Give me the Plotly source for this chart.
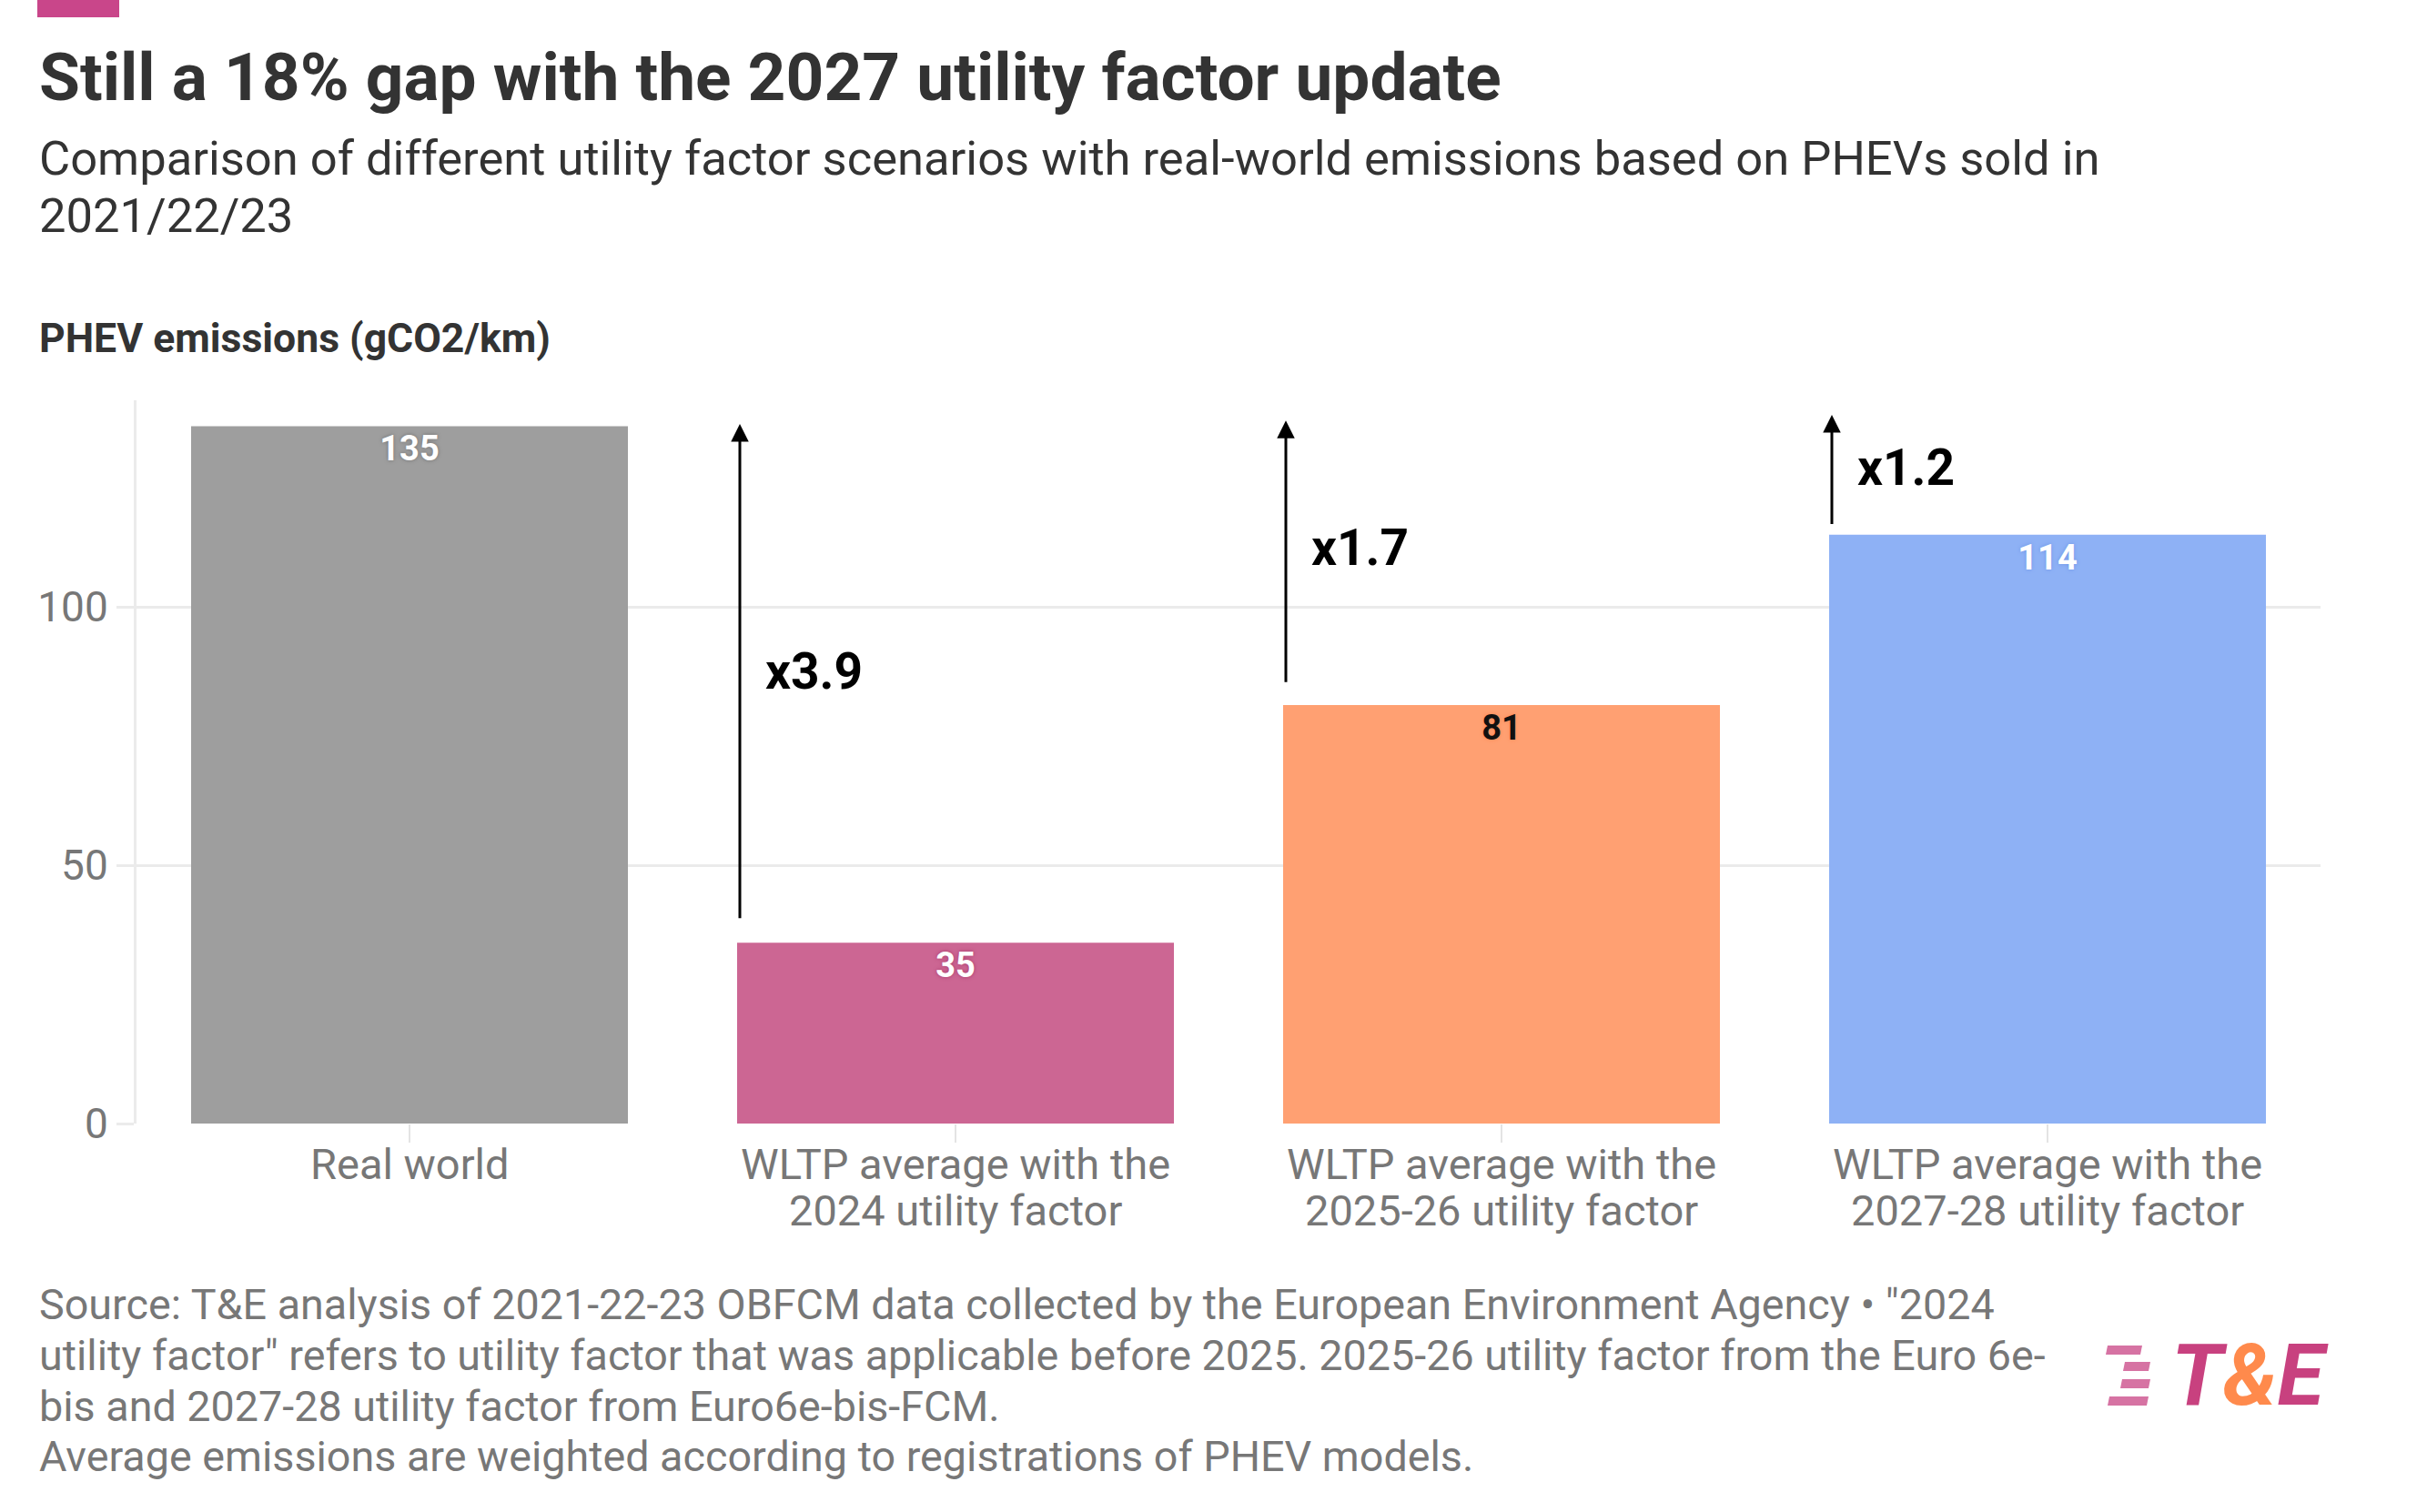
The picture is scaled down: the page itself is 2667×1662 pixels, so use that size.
import plotly.graph_objects as go

# ---------------- data ----------------
categories = [
    "Real world",
    "WLTP average with the<br>2024 utility factor",
    "WLTP average with the<br>2025-26 utility factor",
    "WLTP average with the<br>2027-28 utility factor",
]
values = [135, 35, 81, 114]
bar_colors = ["#9e9e9e", "#cc6693", "#ffa072", "#8eb1f5"]
label_colors = ["#ffffff", "#ffffff", "#111111", "#ffffff"]
halo_colors = ["#6f6f6f", "#a8386a", "#ff8450", "#6e94e6"]

# multiplier arrows (from bar index 1..3)
arrow_idx = [1, 2, 3]
arrow_start = [39.5, 85.2, 115.8]
arrow_end = [135.4, 136.1, 137.2]
arrow_text = ["x3.9", "x1.7", "x1.2"]
arrow_text_y = [87.5, 111.4, 127.0]

y_ticks = [0, 50, 100]

title = "Still a 18% gap with the 2027 utility factor update"
subtitle_lines = [
    "Comparison of different utility factor scenarios with real-world emissions based on PHEVs sold in",
    "2021/22/23",
]
y_title = "PHEV emissions (gCO2/km)"
notes = [
    "Source: T&E analysis of 2021-22-23 OBFCM data collected by the European Environment Agency • \"2024",
    "utility factor\" refers to utility factor that was applicable before 2025. 2025-26 utility factor from the Euro 6e-",
    "bis and 2027-28 utility factor from Euro6e-bis-FCM.",
    "Average emissions are weighted according to registrations of PHEV models.",
]

# ---------------- layout geometry ----------------
W, H = 2667, 1662
L, R, T, B = 150, 117, 440, 427
PW, PH = W - L - R, H - T - B
FONT = "Roboto"


def px(x):
    return (x - L) / PW


def py(y):
    return (H - B - y) / PH


fig = go.Figure()
for i, (c, v) in enumerate(zip(categories, values)):
    fig.add_trace(go.Bar(
        x=[c], y=[v],
        marker=dict(color=bar_colors[i], line=dict(width=0)),
        text=[str(v)],
        textposition="inside",
        insidetextanchor="end",
        textangle=0,
        textfont=dict(family=FONT, size=38, color=label_colors[i], weight="bold",
                      shadow=f"0px 0px 4px {halo_colors[i]}"),
        width=0.8,
        showlegend=False,
        hoverinfo="skip",
    ))

annotations = []
for k, idx in enumerate(arrow_idx):
    xa = idx - 0.395
    annotations.append(dict(
        x=xa, y=arrow_end[k], ax=xa, ay=arrow_start[k],
        xref="x", yref="y", axref="x", ayref="y",
        text="", showarrow=True, arrowhead=2, arrowsize=1.3, arrowwidth=3,
        arrowcolor="#000000", standoff=0, startstandoff=0,
    ))
    annotations.append(dict(
        x=idx - 0.352, y=arrow_text_y[k], xref="x", yref="y",
        text=f"<b>{arrow_text[k]}</b>", showarrow=False,
        xanchor="left", yanchor="middle",
        font=dict(family=FONT, size=55, color="#000000"),
    ))

# category labels (one annotation per line for tighter line spacing)
label_line_y = [1279, 1330]
for i, c in enumerate(categories):
    for j, line in enumerate(c.split("<br>")):
        annotations.append(dict(x=i, y=py(label_line_y[j]), xref="x", yref="paper",
                                xanchor="center", yanchor="middle", text=line, showarrow=False,
                                font=dict(family=FONT, size=47, color="#777777")))

# titles
annotations.append(dict(x=px(41), y=py(85), xref="paper", yref="paper", xanchor="left", yanchor="middle",
                        text=f"<b>{title}</b>", showarrow=False, align="left",
                        font=dict(family=FONT, size=73, color="#333333")))
for line, yy in zip(subtitle_lines, [174, 237]):
    annotations.append(dict(x=px(41), y=py(yy), xref="paper", yref="paper", xanchor="left", yanchor="middle",
                            text=line, showarrow=False, align="left",
                            font=dict(family=FONT, size=52.5, color="#333333")))
annotations.append(dict(x=px(41), y=py(372), xref="paper", yref="paper", xanchor="left", yanchor="middle",
                        text=f"<b>{y_title}</b>", showarrow=False, align="left",
                        font=dict(family=FONT, size=44.5, color="#333333")))
note_y = [1434, 1490, 1546, 1601]
for t, yy in zip(notes, note_y):
    annotations.append(dict(x=px(41), y=py(yy), xref="paper", yref="paper", xanchor="left", yanchor="middle",
                            text=t, showarrow=False, align="left",
                            font=dict(family=FONT, size=46.7, color="#777777")))

# logo text
annotations.append(dict(x=px(2384), y=py(1512), xref="paper", yref="paper", xanchor="left", yanchor="middle",
                        text="<b><i><span style='color:#c8417f'>T</span><span style='color:#ff8a4c'>&amp;</span>"
                             "<span style='color:#c8417f'>E</span></i></b>",
                        showarrow=False, font=dict(family=FONT, size=94, color="#c8417f")))

shapes = [dict(type="rect", xref="paper", yref="paper", x0=px(41), x1=px(131), y0=py(19), y1=py(0),
               fillcolor="#c9468a", line=dict(width=0))]
stripes = [(2314, 2352, 1479, 1489), (2333, 2361, 1497, 1507), (2330, 2361, 1516, 1526), (2316, 2359, 1535, 1545)]
for (x0, x1, y0, y1) in stripes:
    sl = 2
    path = (f"M {px(x0 + sl)} {py(y0)} L {px(x1 + sl)} {py(y0)} L {px(x1)} {py(y1)} L {px(x0)} {py(y1)} Z")
    shapes.append(dict(type="path", xref="paper", yref="paper", path=path,
                       fillcolor="#cf5b93", opacity=0.85, line=dict(width=0)))

fig.update_layout(
    width=W, height=H,
    margin=dict(l=L, r=R, t=T, b=B, pad=0),
    paper_bgcolor="#ffffff", plot_bgcolor="#ffffff",
    barmode="overlay",
    font=dict(family=FONT, color="#777777"),
    annotations=annotations,
    shapes=shapes,
    xaxis=dict(
        type="category", categoryorder="array", categoryarray=categories,
        range=[-0.5, len(categories) - 0.5],
        showgrid=False, showline=False, zeroline=False,
        showticklabels=False,
        ticks="outside", ticklen=20, tickwidth=2, tickcolor="#e4e4e4",
    ),
    yaxis=dict(
        range=[0, 140], tickvals=y_ticks, ticktext=[str(t) for t in y_ticks],
        showgrid=True, gridcolor="#ebebeb", gridwidth=3,
        showline=True, linecolor="#ebebeb", linewidth=3,
        zeroline=False,
        ticks="outside", ticklen=19, tickwidth=3, tickcolor="#ebebeb",
        tickfont=dict(family=FONT, size=46, color="#777777"),
    ),
)

fig.write_html("out.html", config={"displayModeBar": False},
               post_script="document.body.style.margin='0px';")
